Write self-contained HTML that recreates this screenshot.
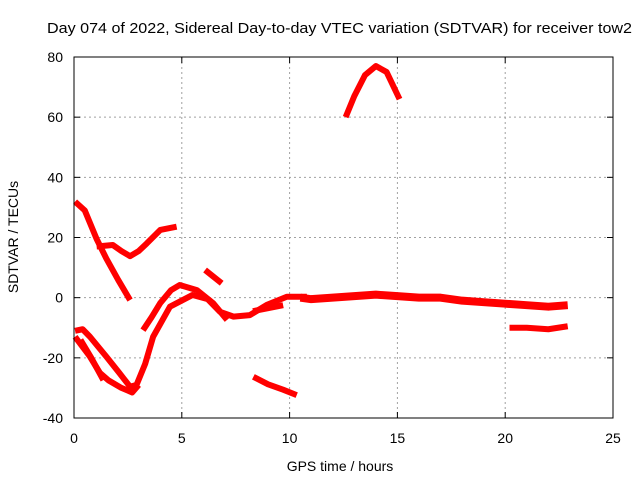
<!DOCTYPE html>
<html><head><meta charset="utf-8"><style>
body{margin:0;background:#fff}
svg{display:block;font-family:"Liberation Sans",sans-serif}
</style></head><body>
<svg id="chart" width="640" height="480">
<rect width="640" height="480" fill="#fff"/>
<g id="grid"></g>
<g id="series"></g>
<rect x="74" y="57" width="539" height="361" fill="none" stroke="#000" stroke-width="1"/>
<g id="ticks"></g>
<text x="47" y="33" font-size="15" textLength="585" lengthAdjust="spacingAndGlyphs">Day 074 of 2022, Sidereal Day-to-day VTEC variation (SDTVAR) for receiver tow2</text>
<text x="340" y="471" text-anchor="middle" font-size="14">GPS time / hours</text>
<text transform="translate(18,237) rotate(-90)" text-anchor="middle" font-size="14">SDTVAR / TECUs</text>
</svg>
<script>
const xTicks=[0,5,10,15,20,25];
const yTicks=[-40,-20,0,20,40,60,80];
const segA=[[0.05,31.9],[0.5,29],[1.05,19.5],[1.5,13],[2.05,5.9],[2.6,-0.8]];
const segB=[[1.05,17],[1.8,17.5],[2.2,15.5],[2.6,13.8],[3.0,15.5],[3.37,18],[4,22.5],[4.76,23.6]];
const segE=[[3.2,-10.8],[3.6,-6.5],[4,-1.8],[4.5,2.5],[4.9,4.2],[5.7,2.5],[6.45,-1.8],[7.1,-7.4]];
const segC1=[[0.05,-11],[0.4,-10.5],[0.74,-13],[1.5,-19.6],[2.1,-25],[2.6,-29.6],[2.9,-29],[3.3,-22],[3.67,-13],[4.45,-3],[5.5,0.9],[6.2,-0.5],[6.77,-4.7],[7.4,-6.3],[8.16,-5.8],[8.94,-2.4],[9.87,0.3],[10.8,0.3]];
const segC2=[[0.05,-13],[0.74,-19.6],[1.2,-25],[1.6,-27.5],[2.2,-30],[2.7,-31.5],[3.0,-29]];
const segC3=[[0.3,-14],[0.8,-20],[1.36,-27.4]];
const segF=[[6.08,9.2],[6.85,4.8]];
const segG=[[8.32,-26.3],[9,-28.8],[9.7,-30.6],[10.33,-32.4]];
const segH=[[8.3,-4.5],[9,-3.5],[9.7,-2.5]];
const segI=[[10.5,0],[11,-0.5],[12,0],[13,0.5],[14,1],[15,0.5],[16,0],[17,0],[18,-1],[19,-1.5],[20,-2],[21,-2.5],[22,-3],[22.9,-2.5]];
const segJ=[[12.6,60],[13,67],[13.5,74],[14,77],[14.5,75],[15.1,66]];
const segK=[[20.2,-10],[21,-10],[22,-10.5],[22.9,-9.5]];
const allSegs=[segA,segB,segE,segC1,segC2,segC3,segF,segG,segH,segI,segJ,segK];
const X=v=>74+v*(539/25), Y=v=>418-(v+40)*(361/120);
const NS='http://www.w3.org/2000/svg';
const grid=document.getElementById('grid'),ticks=document.getElementById('ticks'),ser=document.getElementById('series');
function mk(tag,attrs,parent){const e=document.createElementNS(NS,tag);for(const k in attrs)e.setAttribute(k,attrs[k]);parent.appendChild(e);return e;}
xTicks.forEach(t=>{
 if(t>0&&t<25){const g=mk('line',{x1:X(t),x2:X(t),y1:57,y2:418,stroke:'#a0a0a0','stroke-dasharray':'2,3'},grid);
 
 }
 mk('line',{x1:X(t),x2:X(t),y1:418,y2:412,stroke:'#000'},ticks);
 mk('line',{x1:X(t),x2:X(t),y1:57,y2:63,stroke:'#000'},ticks);
 const l=mk('text',{x:X(t),y:443,'text-anchor':'middle','font-size':14},ticks);l.textContent=t;
 
 
});
yTicks.forEach(t=>{
 if(t>-40&&t<80){const g=mk('line',{x1:74,x2:613,y1:Y(t),y2:Y(t),stroke:'#a0a0a0','stroke-dasharray':'2,3'},grid);
 
 }
 mk('line',{x1:74,x2:80,y1:Y(t),y2:Y(t),stroke:'#000'},ticks);
 mk('line',{x1:613,x2:607,y1:Y(t),y2:Y(t),stroke:'#000'},ticks);
 const l=mk('text',{x:63,y:Y(t)+5,'text-anchor':'end','font-size':14},ticks);l.textContent=t;
 
 
});
allSegs.forEach(s=>{
 const w=(s===segI)?8:6;
 const p=mk('polyline',{points:s.map(d=>X(d[0])+','+Y(d[1])).join(' '),fill:'none',stroke:'#ff0000','stroke-width':w,'stroke-linejoin':'round'},ser);
 
 
});
</script>
</body></html>
